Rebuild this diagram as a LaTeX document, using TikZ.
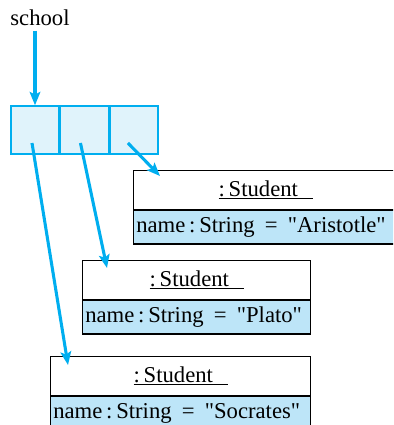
\documentclass[tikz,border=0pt]{standalone}
\usepackage{fontspec}
\setmainfont{Liberation Serif}
\usepackage{xcolor}
\usepackage{tikz}
\usetikzlibrary{arrows.meta,positioning}
\definecolor{refblue}{RGB}{0,174,239}
\definecolor{cellfill}{RGB}{224,243,251}
\definecolor{attrfill}{RGB}{189,229,248}
\tikzset{
cell/.style={draw=refblue,fill=cellfill,line width=1.1pt,minimum width=36pt,minimum height=36pt,inner sep=0pt},
objhead/.style={draw=black,line width=1pt,fill=white,minimum width=#1,minimum height=29pt,inner sep=0pt},
objattr/.style={draw=black,line width=1pt,fill=attrfill,text width=#1,minimum height=25pt,inner xsep=2pt,inner ysep=0pt,align=left},
link/.style={draw=refblue,line width=2.3pt,-{Stealth[length=10pt,width=8pt,inset=2pt]}}
}
\newcommand{\objname}{\underline{:\,Student\hspace{11pt}}}
\newcommand{\attrline}[1]{\mbox{name\,:\,String\hspace{0.45em}=\hspace{0.45em}\textquotedbl#1\textquotedbl}}
\begin{document}
\begin{tikzpicture}[x=0.75pt,y=-0.75pt,every node/.style={font=\fontsize{17pt}{20pt}\selectfont}]
\useasboundingbox(0,0)rectangle(393,425);
\clip(0,0)rectangle(393,425);
\node(school)at(40,18){school};
\node[cell](c1)at(35,130){};
\node[cell,right=0pt of c1](c2){};
\node[cell,right=0pt of c2](c3){};
\node[objhead=198pt,anchor=north west](arihead)at(133,170){\objname};
\node[objattr=194pt,below=0pt of arihead](ariattr){\attrline{Aristotle}};
\node[objhead=171pt,anchor=north west](plahead)at(82,260){\objname};
\node[objattr=167pt,below=0pt of plahead](plaattr){\attrline{Plato}};
\node[objhead=195pt,anchor=north west](sochead)at(50,356){\objname};
\node[objattr=191pt,below=0pt of sochead](socattr){\attrline{Socrates}};
\draw[link](school.south -| c1)--(c1.north);
\draw[link]([shift={(-3,13)}]c1.center)--([shift={(18,9)}]sochead.north west);
\draw[link]([shift={(-4,13)}]c2.center)--([shift={(25,8)}]plahead.north west);
\draw[link]([shift={(-6,13)}]c3.center)--([shift={(27,6)}]arihead.north west);
\end{tikzpicture}
\end{document}
